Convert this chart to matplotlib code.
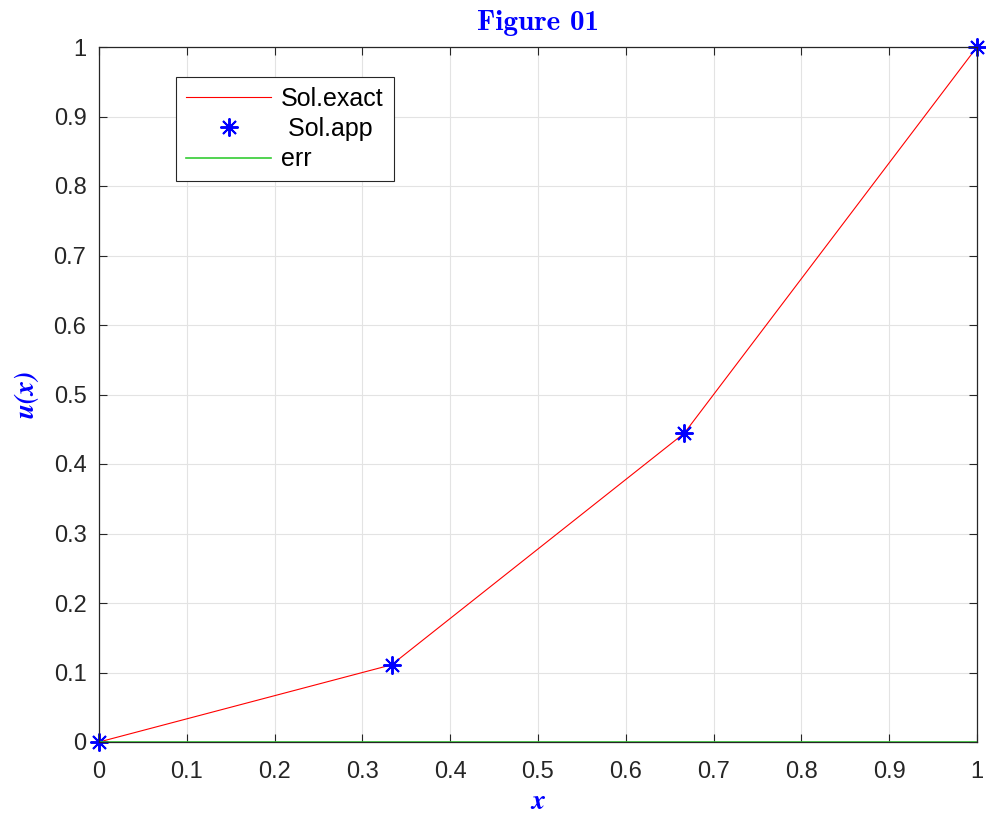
import matplotlib
matplotlib.use("Agg")
import matplotlib.pyplot as plt
import numpy as np

x_nodes = [0.0, 1/3, 2/3, 1.0]
u_exact = [0.0, 0.1111, 0.4444, 1.0]
u_app = [0.0, 0.1111, 0.4444, 1.0]
err = [0.0, 0.0, 0.0, 0.0]
xticks = [0, 0.1, 0.2, 0.3, 0.4, 0.5, 0.6, 0.7, 0.8, 0.9, 1]
yticks = [0, 0.1, 0.2, 0.3, 0.4, 0.5, 0.6, 0.7, 0.8, 0.9, 1]

plt.rcParams['font.family'] = ['Liberation Sans', 'DejaVu Sans']
plt.rcParams['mathtext.fontset'] = 'cm'

fig = plt.figure(figsize=(9.86, 8.17), dpi=100)
ax = fig.add_axes([99/986, 1 - 742/817, 878/986, 695/817])

ax.plot(x_nodes, u_exact, color='red', lw=0.8, label='Sol.exact')
ax.plot(x_nodes, u_app, linestyle='none', marker=(8, 2, 0), markersize=13,
        markeredgewidth=1.4, color='blue', label=' Sol.app', clip_on=False)
ax.plot(x_nodes, err, color='#33cc33', lw=1.2, label='err')

ax.set_xlim(0, 1)
ax.set_ylim(0, 1)
ax.set_xticks(xticks)
ax.set_yticks(yticks)
ax.set_xticklabels([f'{t:g}' for t in xticks])
ax.set_yticklabels([f'{t:g}' for t in yticks])
ax.grid(True, color='#e3e3e3', lw=0.8)
ax.set_axisbelow(True)
ax.tick_params(direction='in', length=6, width=0.8, labelsize=17, colors='#262626',
               top=True, right=True)
ax.tick_params(axis='x', pad=14)
ax.tick_params(axis='y', pad=9)
for s in ax.spines.values():
    s.set_color('#262626')
    s.set_linewidth(0.9)

ax.set_title('Figure 01', color='blue', fontsize=21, family='cmb10', pad=12)
ax.set_xlabel(r'$\mathbfit{x}$', color='blue', fontsize=20, labelpad=4)
ax.set_ylabel(r'$\mathbfit{u(x)}$', color='blue', fontsize=20, labelpad=9)

leg = ax.legend(loc='upper left', bbox_to_anchor=(0.0877, 0.957), fontsize=18,
                fancybox=False, edgecolor='#262626', framealpha=1,
                handlelength=3.4, borderpad=0.4, labelspacing=0.25, handletextpad=0.4,
                borderaxespad=0)
leg.get_frame().set_linewidth(0.8)

fig.savefig('out.png', dpi=100)
